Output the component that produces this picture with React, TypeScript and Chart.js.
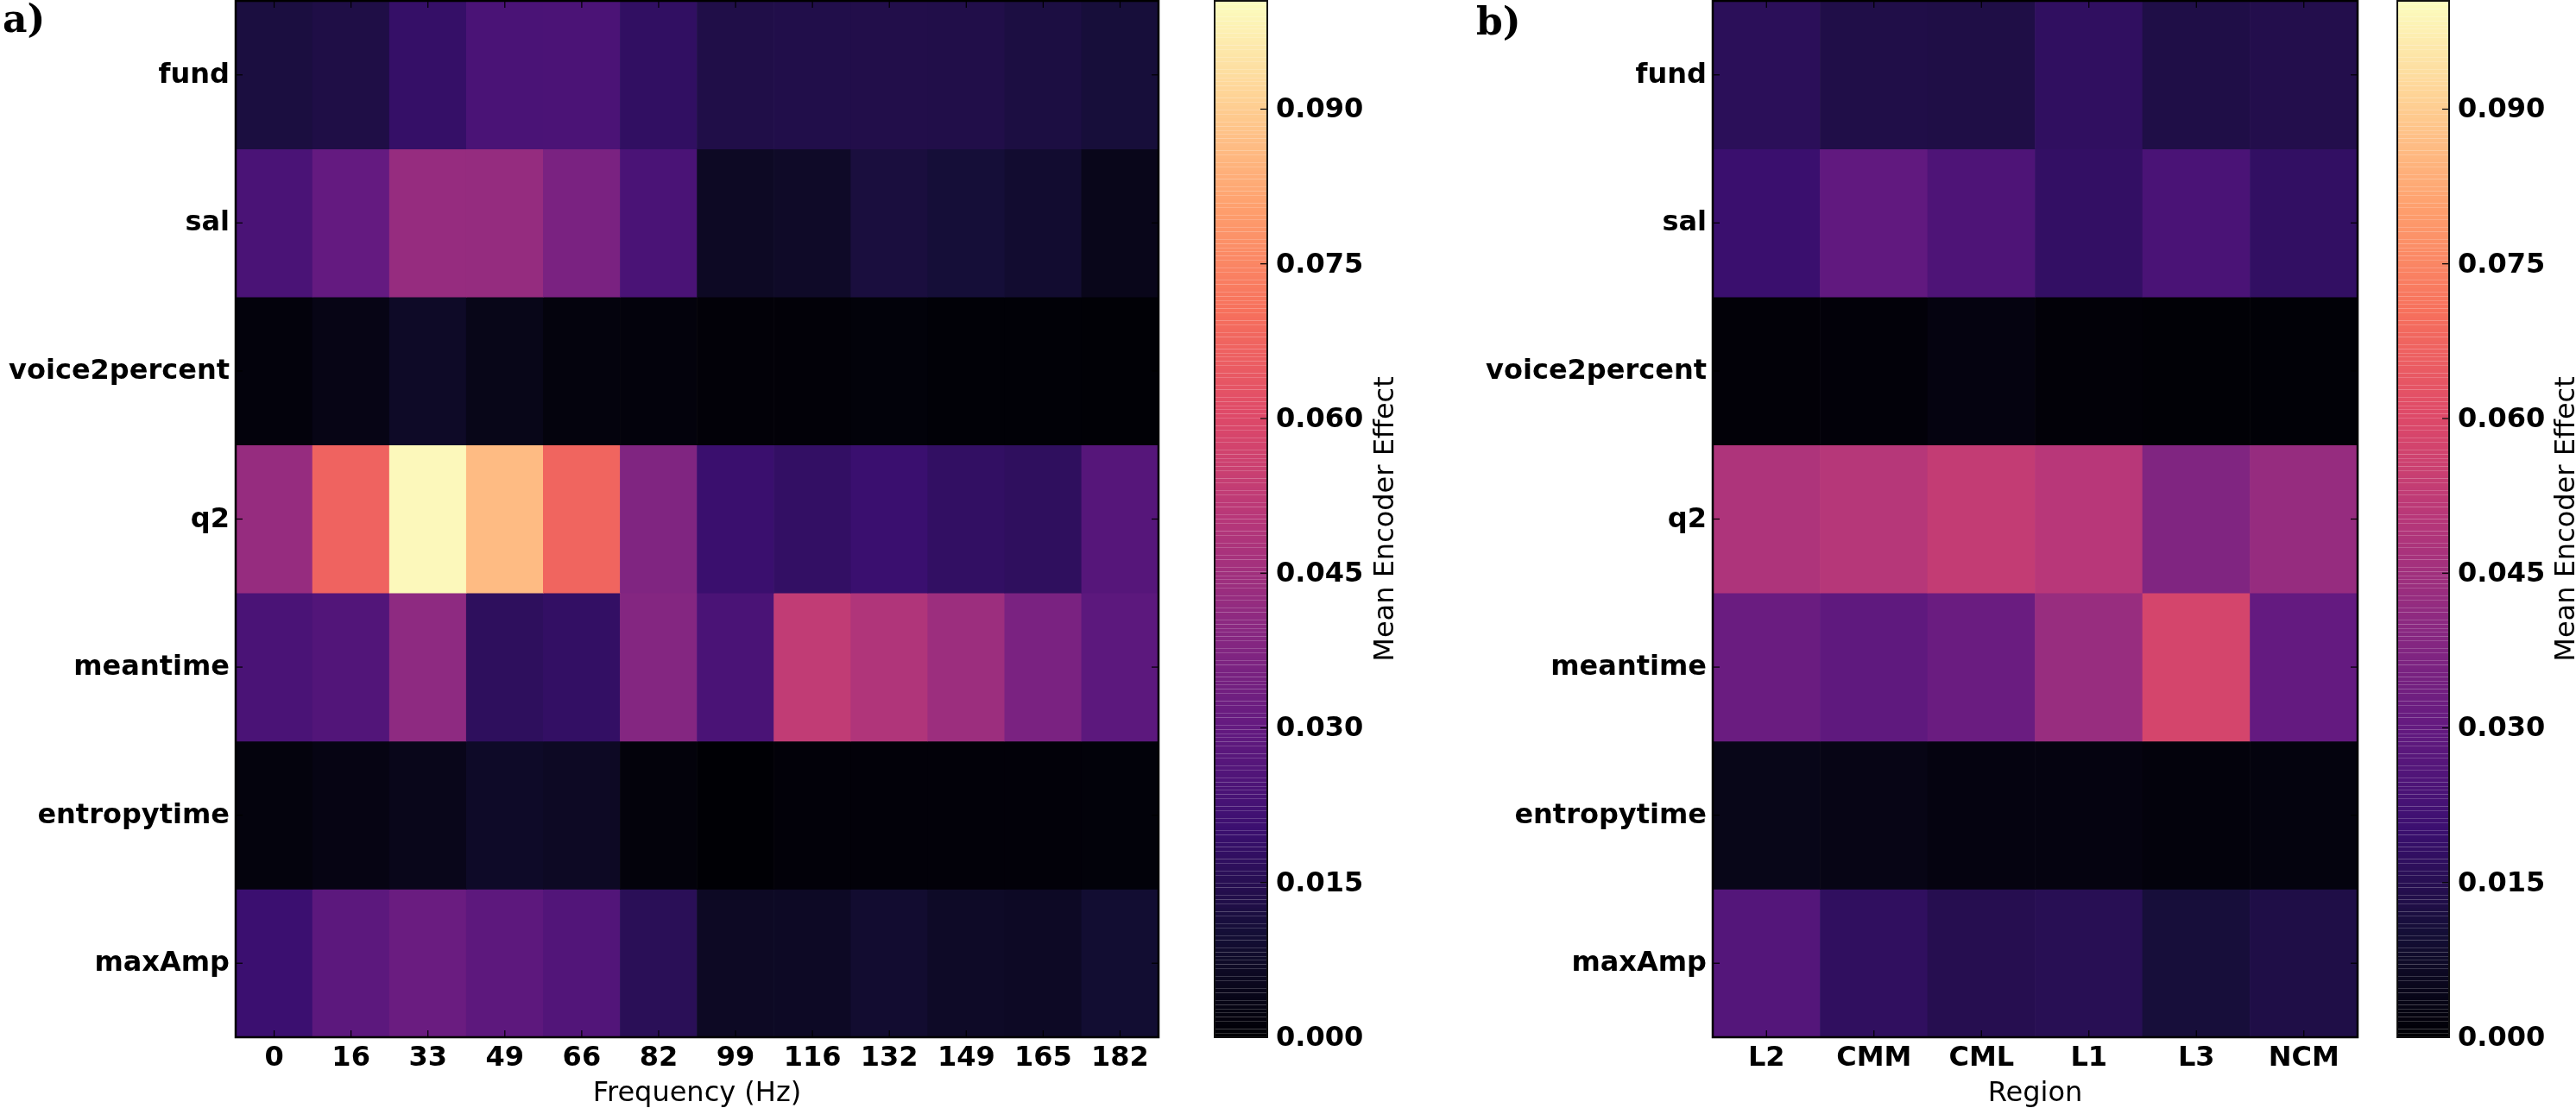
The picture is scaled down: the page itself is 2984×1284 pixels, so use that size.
import React, { useEffect, useRef } from "react";
import { Chart, registerables } from "chart.js";

Chart.register(...registerables);

const W = 2984;
const H = 1284;

// ---------- data ----------
const features = ["fund", "sal", "voice2percent", "q2", "meantime", "entropytime", "maxAmp"];
const frequencyLabels = ["0", "16", "33", "49", "66", "82", "99", "116", "132", "149", "165", "182"];
const regionLabels = ["L2", "CMM", "CML", "L1", "L3", "NCM"];

// Panel a: mean encoder effect per feature (rows) and frequency bin (columns)
const freqFund = [0.0118, 0.0128, 0.0186, 0.0238, 0.024, 0.0176, 0.0131, 0.0135, 0.0136, 0.0134, 0.0121, 0.0108];
const freqSal = [0.0238, 0.0302, 0.0425, 0.0423, 0.0357, 0.0238, 0.0064, 0.0073, 0.0115, 0.0104, 0.0088, 0.0045];
const freqVoice2percent = [0.0016, 0.0035, 0.007, 0.004, 0.0018, 0.0017, 0.0008, 0.0008, 0.0012, 0.0006, 0.0006, 0.0005];
const freqQ2 = [0.0425, 0.0671, 0.0995, 0.0863, 0.0675, 0.0372, 0.0198, 0.0181, 0.0199, 0.0179, 0.017, 0.0266];
const freqMeantime = [0.0238, 0.0257, 0.0407, 0.0168, 0.0181, 0.0382, 0.0238, 0.0528, 0.0486, 0.0439, 0.0357, 0.0281];
const freqEntropytime = [0.0018, 0.003, 0.0045, 0.0072, 0.0064, 0.0015, 0.0002, 0.001, 0.001, 0.001, 0.001, 0.0012];
const freqMaxAmp = [0.0202, 0.0283, 0.0316, 0.0285, 0.0257, 0.0157, 0.0065, 0.0066, 0.0088, 0.007, 0.0066, 0.0092];

// Panel b: mean encoder effect per feature (rows) and region (columns)
const regionFund = [0.0161, 0.0131, 0.0128, 0.0173, 0.013, 0.0138];
const regionSal = [0.0198, 0.0293, 0.0247, 0.0181, 0.0238, 0.0179];
const regionVoice2percent = [0.0008, 0.001, 0.0025, 0.0008, 0.0004, 0.0007];
const regionQ2 = [0.0481, 0.05, 0.0533, 0.0505, 0.0372, 0.0425];
const regionMeantime = [0.0316, 0.029, 0.0316, 0.043, 0.0578, 0.0302];
const regionEntropytime = [0.004, 0.0035, 0.0025, 0.0024, 0.0017, 0.002];
const regionMaxAmp = [0.0262, 0.0172, 0.0146, 0.0153, 0.0108, 0.013];

const colorbarTicks = [0, 0.015, 0.03, 0.045, 0.06, 0.075, 0.09];
const VMIN = 0;
const VMAX = 0.1005;
const COLORBAR_LEVELS = 256;

const freqRows = [freqFund, freqSal, freqVoice2percent, freqQ2, freqMeantime, freqEntropytime, freqMaxAmp];
const regionRows = [regionFund, regionSal, regionVoice2percent, regionQ2, regionMeantime, regionEntropytime, regionMaxAmp];

// ---------- magma colormap ----------
const MAGMA: [number, number, number][] = [
  [0, 0, 4],
  [20, 14, 54],
  [59, 15, 112],
  [100, 26, 128],
  [140, 41, 129],
  [183, 55, 121],
  [222, 73, 104],
  [247, 112, 92],
  [254, 159, 109],
  [254, 207, 146],
  [252, 253, 191],
];

function magma(t: number): string {
  const c = Math.max(0, Math.min(1, t)) * (MAGMA.length - 1);
  const i = Math.min(MAGMA.length - 2, Math.floor(c));
  const f = c - i;
  const a = MAGMA[i];
  const b = MAGMA[i + 1];
  const r = Math.round(a[0] + (b[0] - a[0]) * f);
  const g = Math.round(a[1] + (b[1] - a[1]) * f);
  const bl = Math.round(a[2] + (b[2] - a[2]) * f);
  return `rgb(${r},${g},${bl})`;
}

const norm = (v: number) => (v - VMIN) / (VMAX - VMIN);

const SANS = '"DejaVu Sans", "Noto Sans", sans-serif';
const SERIF = '"DejaVu Serif", "Liberation Serif", serif';

type Area = { left: number; top: number; right: number; bottom: number };

function paddingFor(a: Area) {
  return { left: a.left, top: a.top, right: W - a.right, bottom: H - a.bottom };
}

function line(ctx: CanvasRenderingContext2D, x1: number, y1: number, x2: number, y2: number) {
  ctx.beginPath();
  ctx.moveTo(x1, y1);
  ctx.lineTo(x2, y2);
  ctx.stroke();
}

function buildHeatmap(
  canvas: HTMLCanvasElement,
  labels: string[],
  rows: number[][],
  area: Area,
  xTitle: string,
  letter: { text: string; x: number; y: number }
) {
  const decor = {
    id: "heatDecor",
    afterDraw(chart: any) {
      const { ctx, chartArea } = chart;
      const { left, right, top, bottom } = chartArea;
      const xs = chart.scales.x;
      const ys = chart.scales.y;
      ctx.save();
      ctx.strokeStyle = "#000";
      ctx.lineWidth = 1.2;
      labels.forEach((_, i) => {
        const px = xs.getPixelForValue(i);
        line(ctx, px, bottom, px, bottom - 8);
        line(ctx, px, top, px, top + 8);
      });
      features.forEach((_, r) => {
        const py = ys.getPixelForValue(r + 0.5);
        line(ctx, left, py, left + 8, py);
        line(ctx, right, py, right - 8, py);
      });
      ctx.lineWidth = 2.5;
      ctx.strokeRect(left, top, right - left, bottom - top);

      ctx.fillStyle = "#000";
      ctx.font = `bold 32px ${SANS}`;
      ctx.textAlign = "center";
      ctx.textBaseline = "alphabetic";
      labels.forEach((l, i) => ctx.fillText(l, xs.getPixelForValue(i), bottom + 33));
      ctx.textAlign = "right";
      features.forEach((f, r) => ctx.fillText(f, left - 7, ys.getPixelForValue(r + 0.5) + 9));

      ctx.font = `32px ${SANS}`;
      ctx.textAlign = "center";
      ctx.fillText(xTitle, (left + right) / 2, 1276);

      ctx.font = `bold 44px ${SERIF}`;
      ctx.textAlign = "left";
      ctx.fillText(letter.text, letter.x, letter.y);
      ctx.restore();
    },
  };

  return new Chart(canvas, {
    type: "bar",
    data: {
      labels,
      datasets: features.map((f, r) => ({
        label: f,
        data: labels.map(() => 1),
        backgroundColor: rows[r].map((v) => magma(norm(v))),
        borderWidth: 0,
        barPercentage: 1,
        categoryPercentage: 1,
        stack: "heat",
      })),
    },
    options: {
      responsive: false,
      animation: false,
      events: [],
      devicePixelRatio: 1,
      layout: { padding: paddingFor(area) },
      plugins: { legend: { display: false }, tooltip: { enabled: false }, title: { display: false } },
      scales: {
        x: { type: "category", stacked: true, offset: true, display: false },
        y: { type: "linear", stacked: true, min: 0, max: features.length, reverse: true, display: false },
      },
    },
    plugins: [decor],
  } as any);
}

function buildColorbar(canvas: HTMLCanvasElement, area: Area, titleX: number) {
  const levels = Array.from({ length: COLORBAR_LEVELS }, (_, i) => i);
  const decor = {
    id: "cbDecor",
    afterDraw(chart: any) {
      const { ctx, chartArea } = chart;
      const { left, right, top, bottom } = chartArea;
      const ys = chart.scales.y;
      ctx.save();
      ctx.strokeStyle = "#000";
      ctx.lineWidth = 1.2;
      colorbarTicks.forEach((v) => {
        const py = ys.getPixelForValue(v);
        line(ctx, right, py, right - 8, py);
      });
      ctx.lineWidth = 2;
      ctx.strokeStyle = "#111";
      ctx.strokeRect(left, top, right - left, bottom - top);

      ctx.fillStyle = "#000";
      ctx.font = `bold 32px ${SANS}`;
      ctx.textAlign = "left";
      ctx.textBaseline = "alphabetic";
      colorbarTicks.forEach((v) => ctx.fillText(v.toFixed(3), right + 10, ys.getPixelForValue(v) + 10));

      ctx.font = `32px ${SANS}`;
      ctx.textAlign = "center";
      ctx.translate(titleX, (top + bottom) / 2);
      ctx.rotate(-Math.PI / 2);
      ctx.fillText("Mean Encoder Effect", 0, 0);
      ctx.restore();
    },
  };
  return new Chart(canvas, {
    type: "bar",
    data: {
      labels: [""],
      datasets: levels.map((i) => ({
        data: [(VMAX - VMIN) / COLORBAR_LEVELS],
        backgroundColor: magma((i + 0.5) / COLORBAR_LEVELS),
        borderWidth: 0,
        inflateAmount: 0,
        barPercentage: 1,
        categoryPercentage: 1,
        stack: "cb",
      })),
    },
    options: {
      responsive: false,
      animation: false,
      events: [],
      devicePixelRatio: 1,
      layout: { padding: paddingFor(area) },
      plugins: { legend: { display: false }, tooltip: { enabled: false }, title: { display: false } },
      scales: {
        x: { type: "category", stacked: true, offset: true, display: false },
        y: { type: "linear", stacked: true, min: VMIN, max: VMAX, display: false },
      },
    },
    plugins: [decor],
  } as any);
}

function ChartCanvas({ build }: { build: (c: HTMLCanvasElement) => Chart }) {
  const ref = useRef<HTMLCanvasElement | null>(null);
  useEffect(() => {
    if (!ref.current) return;
    const chart = build(ref.current);
    return () => chart.destroy();
  }, []);
  return (
    <canvas
      ref={ref}
      width={W}
      height={H}
      style={{ position: "absolute", left: 0, top: 0, width: W, height: H }}
    />
  );
}

export default function App() {
  return (
    <div style={{ position: "absolute", left: 0, top: 0, width: W, height: H, background: "#fff", overflow: "hidden" }}>
      <ChartCanvas
        build={(c) =>
          buildHeatmap(c, frequencyLabels, freqRows, { left: 273, top: 1, right: 1342, bottom: 1202 }, "Frequency (Hz)", {
            text: "a)",
            x: 3,
            y: 37,
          })
        }
      />
      <ChartCanvas build={(c) => buildColorbar(c, { left: 1407, top: 1, right: 1468, bottom: 1202 }, 1614)} />
      <ChartCanvas
        build={(c) =>
          buildHeatmap(c, regionLabels, regionRows, { left: 1984, top: 1, right: 2731, bottom: 1202 }, "Region", {
            text: "b)",
            x: 1710,
            y: 40,
          })
        }
      />
      <ChartCanvas build={(c) => buildColorbar(c, { left: 2777, top: 1, right: 2837, bottom: 1202 }, 2982)} />
    </div>
  );
}
